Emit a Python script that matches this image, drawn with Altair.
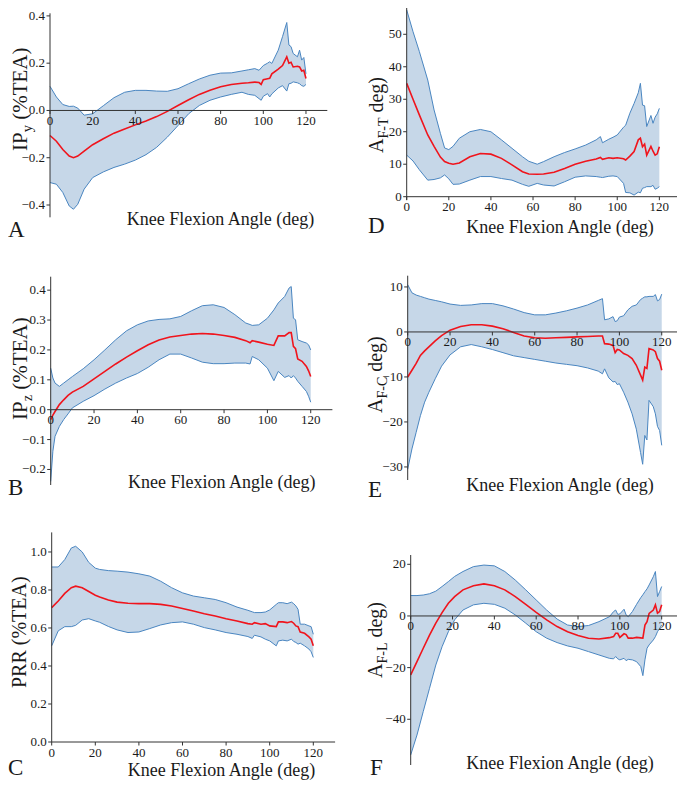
import altair as alt
import pandas as pd

# ---------------- data ----------------
# Panel A: IP_y (%TEA)
a_x = [0, 3, 6, 9, 11, 13, 16, 20, 25, 30, 35, 40, 45, 50, 55, 60, 65, 70, 75, 80, 85, 90,
       93, 96, 98, 99, 100, 102, 103, 104, 107, 109, 111, 112, 113, 114, 116, 117, 118, 119, 120]
a_mean = [-0.106, -0.13, -0.165, -0.193, -0.2, -0.193, -0.172, -0.145, -0.12, -0.096, -0.078, -0.061,
          -0.045, -0.026, -0.004, 0.021, 0.045, 0.068, 0.085, 0.10, 0.11, 0.115,
          0.117, 0.12, 0.118, 0.11, 0.13, 0.134, 0.136, 0.155, 0.175, 0.19, 0.227, 0.20, 0.204,
          0.184, 0.187, 0.184, 0.167, 0.17, 0.135]
a_upper = [0.102, 0.057, 0.025, 0.017, 0.018, 0.01, -0.02, -0.014, 0.02, 0.054, 0.077, 0.085,
           0.085, 0.082, 0.081, 0.092, 0.113, 0.133, 0.149, 0.158, 0.159, 0.167,
           0.172, 0.177, 0.17, 0.18, 0.19, 0.2, 0.206, 0.199, 0.255, 0.312, 0.372, 0.277, 0.27,
           0.241, 0.227, 0.255, 0.213, 0.224, 0.155]
a_lower = [-0.305, -0.312, -0.347, -0.404, -0.418, -0.397, -0.333, -0.284, -0.26, -0.241, -0.227, -0.21,
           -0.187, -0.156, -0.113, -0.064, -0.014, 0.021, 0.043, 0.057, 0.068, 0.077,
           0.068, 0.064, 0.05, 0.043, 0.06, 0.071, 0.057, 0.07, 0.095, 0.105, 0.082, 0.113, 0.115,
           0.121, 0.117, 0.113, 0.105, 0.102, 0.11]

# Panel B: IP_z (%TEA)
b_x = [0, 1, 2, 4, 6, 8, 10, 15, 20, 25, 30, 35, 40, 45, 50, 55, 60, 65, 70, 75, 80, 85, 90,
       92, 93, 96, 100, 103, 105, 108, 110, 111, 112, 113, 114, 116, 118, 119, 120]
b_mean = [-0.033, -0.018, -0.006, 0.017, 0.033, 0.048, 0.059,
          0.078, 0.103, 0.128, 0.153, 0.176, 0.197, 0.217, 0.233, 0.243, 0.248, 0.253, 0.255, 0.253,
          0.248, 0.242, 0.231,
          0.224, 0.231, 0.226, 0.219, 0.215, 0.247, 0.247, 0.258, 0.258, 0.212, 0.204, 0.17, 0.162,
          0.145, 0.13, 0.111]
b_upper = [0.139, 0.106, 0.089, 0.078, 0.089, 0.1, 0.111,
           0.137, 0.167, 0.2, 0.234, 0.264, 0.284, 0.297, 0.302, 0.304, 0.312, 0.331, 0.348, 0.351,
           0.342, 0.318, 0.29,
           0.285, 0.282, 0.284, 0.306, 0.334, 0.357, 0.379, 0.407, 0.412, 0.306, 0.301, 0.234, 0.228,
           0.223, 0.217, 0.2]
b_lower = [-0.24, -0.139, -0.089, -0.056, -0.033, -0.014, 0.006,
           0.028, 0.047, 0.069, 0.089, 0.106, 0.121, 0.142, 0.167, 0.186, 0.186, 0.173, 0.159, 0.154,
           0.154, 0.156, 0.156,
           0.153, 0.178, 0.167, 0.139, 0.097, 0.128, 0.108, 0.114, 0.106, 0.114, 0.106, 0.095, 0.078,
           0.061, 0.045, 0.025]

# Panel C: PRR (%TEA)
c_x = [0, 3, 6, 9, 11, 14, 17, 20, 22, 26, 30, 35, 40, 45, 50, 55, 60, 65, 70, 75, 80, 85, 90,
       92, 93, 96, 98, 100, 103, 104, 106, 108, 110, 111, 112, 113, 114, 116, 118, 119, 120]
c_mean = [0.707, 0.742, 0.782, 0.812, 0.82, 0.812, 0.792, 0.772, 0.763, 0.747,
          0.736, 0.73, 0.728, 0.728, 0.724, 0.716, 0.703, 0.689, 0.675, 0.663, 0.649, 0.637, 0.623,
          0.62, 0.628, 0.62, 0.623, 0.611, 0.607, 0.632, 0.632, 0.628, 0.634, 0.625, 0.611, 0.607,
          0.579, 0.572, 0.553, 0.541, 0.506]
c_upper = [0.921, 0.921, 0.96, 1.021, 1.03, 1.0, 0.945, 0.915, 0.908, 0.902,
           0.899, 0.894, 0.885, 0.873, 0.846, 0.812, 0.785, 0.768, 0.759, 0.75, 0.733, 0.71, 0.693,
           0.685, 0.681, 0.681, 0.684, 0.695, 0.724, 0.733, 0.733, 0.728, 0.736, 0.728, 0.716, 0.698,
           0.62, 0.62, 0.611, 0.607, 0.567]
c_lower = [0.506, 0.585, 0.607, 0.607, 0.614, 0.642, 0.649, 0.637, 0.63, 0.608,
           0.59, 0.576, 0.579, 0.597, 0.616, 0.628, 0.632, 0.62, 0.602, 0.59, 0.576, 0.567, 0.555,
           0.545, 0.562, 0.553, 0.541, 0.532, 0.506, 0.532, 0.536, 0.532, 0.541, 0.529, 0.524, 0.515,
           0.52, 0.506, 0.489, 0.475, 0.445]

# Panel D: A_F-T (deg)
d_x = [0, 3, 6, 10, 13, 16, 18, 20, 22, 25, 30, 35, 40, 45, 50, 55, 58, 62, 65, 70,
       75, 80, 85, 90, 92, 93, 96, 98, 100, 103, 104, 106, 108, 110, 111, 112, 113, 114,
       116, 117, 118, 119, 120]
d_mean = [34.9, 30, 25.2, 19, 15.5, 12.2, 10.8, 10.3, 10, 10.4,
          12.3, 13.3, 13.1, 11.8, 9.8, 7.7, 7.0, 6.9, 7.0, 7.5,
          8.7, 10, 10.9, 11.6, 12.1, 11.5, 12, 11.8, 12, 11.7,
          11.3, 12.5, 13.9, 17.5, 18, 15.4, 16.2, 12.8, 15.5, 14.0, 12.8, 13.2, 15.4]
d_upper = [57.5, 50.8, 44.7, 35.9, 26.7, 19.5, 15, 14.5, 15.5, 18,
           20, 20.7, 20, 17.5, 14.9, 12.3, 10.9, 10, 10.8, 12.3,
           13.6, 14.7, 15.9, 17.5, 18.5, 16.6, 17.7, 18.3, 19, 21.4,
           22, 25.7, 28.7, 32, 34.9, 28.2, 28, 21.6, 25, 22.6, 24.5, 25.5, 27.2]
d_lower = [12.8, 11, 8.3, 5.1, 5.3, 5.8, 6.7, 5.5, 3.8, 3.9,
           5.1, 6.2, 6.2, 5.6, 5.1, 3.8, 3.2, 4.1, 3.6, 3.3,
           4.6, 6, 6.4, 6.2, 6, 5.9, 6.3, 6.4, 6.2, 4.1,
           1.3, 1.2, 0.5, 1.4, 1.2, 2.6, 2.8, 3.1, 3.1, 3.5, 2.3, 2.6, 3.1]

# Panel E: A_F-C (deg)
e_x = [0, 2, 4, 6, 8, 10, 13, 16, 20, 25, 30, 35, 40, 45, 50, 55, 60, 65, 70, 75, 80, 85, 90,
       92, 93, 95, 97, 98, 99, 100, 102, 104, 106, 108, 110, 111, 112, 113, 114, 116, 117, 118, 119, 120]
e_mean = [-10, -8.5, -7, -5.2, -4.2, -3.3, -2.0, -0.8,
          0.4, 1.2, 1.6, 1.6, 1.3, 0.7, -0.1, -0.9, -1.3, -1.4, -1.3, -1.2, -1.1, -1.0, -0.9,
          -0.9, -2.6, -2.7, -3.0, -4.6, -3.9, -4.0, -4.8, -5.2, -5.9, -7.4, -9.6,
          -10.7, -7.8, -8.1, -3.7, -4.0, -4.4, -5.9, -6.5, -8.5]
e_upper = [10.5, 8.7, 8.2, 7.9, 7.6, 7.3, 7.0, 6.7,
           6.2, 5.9, 6.0, 6.3, 6.3, 5.8, 5.1, 4.3, 3.8, 3.8, 4.2, 4.7, 5.3, 6.0, 7.0,
           7.4, 2.7, 2.9, 3.4, 2.3, 2.5, 3.3, 3.6, 4.9, 5.7, 6.0, 7.2,
           7.5, 7.8, 7.8, 7.9, 7.9, 8.3, 6.9, 7.2, 8.4]
e_lower = [-30.5, -26, -22.3, -18.6, -15.6, -13.4, -10.4, -7.6,
           -5.1, -3.3, -2.8, -3.3, -3.9, -4.6, -5.3, -5.7, -6.1, -6.5, -6.9, -7.2, -7.5, -8.0, -8.7,
           -9.3, -8.2, -10.2, -11.1, -11.0, -11.7, -11.5, -13.4, -15.6, -18.2, -21.6, -26.8,
           -29.4, -23.0, -24.0, -15.2, -16.6, -18.2, -21.0, -21.9, -25.2]

# Panel F: A_F-L (deg)
f_x = [0, 3, 6, 9, 12, 15, 18, 21, 25, 30, 35, 40, 45, 50, 55, 60, 65, 70, 75, 80, 85, 90, 95,
       97, 98, 99, 100, 102, 103, 104, 106, 108, 110, 111, 112, 113, 114, 116, 117, 118, 119, 120]
f_mean = [-22.8, -17.7, -12.5, -7.4, -2.8, 1.3, 4.9, 7.5,
          10.1, 11.7, 12.4, 11.7, 10.1, 7.5, 4.5, 1.4, -1.5, -4.1, -6.1, -7.6, -8.6, -8.9, -8.4,
          -8.0, -6.7, -6.7, -8.3, -6.9, -7.2, -8.6, -8.6, -8.3, -8.5,
          -8.6, -3.5, -2.2, 1.0, 2.3, 4.3, 1.1, 1.7, 4.3]
f_upper = [7.9, 7.9, 8.1, 8.6, 9.6, 11.4, 13.3, 15.3,
           17.2, 19.1, 19.7, 19.4, 17.2, 13.9, 10.1, 6.2, 2.3, -1.2, -3.5, -4.1, -3.7, -2.2, -0.3,
           1.7, 2.3, 0.6, 0.8, 2.6, 0.4, -0.3, 1.7, 4.5, 7.1,
           8.2, 9.4, 10.5, 12, 15.2, 17.2, 7.5, 9.4, 11.4]
f_lower = [-53.8, -46.1, -37, -28, -19, -11.9, -6.1, -1.5,
           2.3, 4.3, 4.9, 4.5, 3, 0.4, -2.8, -6.1, -8.6, -10.3, -11.6, -12.5, -13.8, -15.1, -16.4,
           -16.6, -15.7, -16.6, -17, -16.4, -17.3, -16.8, -17, -17.7, -19.6,
           -23.1, -17, -12.5, -11.2, -9.3, -8, -6.1, -4.8, -3.5]

x_ticks = [0, 20, 40, 60, 80, 100, 120]
a_ticks = [-0.4, -0.2, 0.0, 0.2, 0.4]
b_ticks = [-0.2, -0.1, 0.0, 0.1, 0.2, 0.3, 0.4]
c_ticks = [0.0, 0.2, 0.4, 0.6, 0.8, 1.0]
d_ticks = [0, 10, 20, 30, 40, 50]
e_ticks = [-30, -20, -10, 0, 10]
f_ticks = [-40, -20, 0, 20]
x_title = "Knee Flexion Angle (deg)"

# ---------------- style / layout ----------------
W, H = 669, 772
FONT = "Liberation Serif"
FILL = "#c6d7e8"
EDGE = "#4a86c1"
RED = "#f0141c"
AXC = "#333333"
TXT = "#1a1a1a"
TICK = 3.5
TICK_FONT = 13

TIMES = {'I': 333, 'P': 556, 'R': 667, 'A': 722, 'T': 611, 'E': 611, 'F': 556, 'C': 667,
         'L': 611, ' ': 250, '(': 333, ')': 333, '%': 833, '-': 333, 'y': 500, 'z': 444,
         'd': 500, 'e': 444, 'g': 500}


def text_width(s, size):
    return sum(TIMES.get(ch, 500) for ch in s) / 1000.0 * size


def panel(xs, mean, upper, lower, xr, yd, yr, yticks, yfmt):
    df = pd.DataFrame({"angle": xs, "mean": mean, "upper": upper, "lower": lower})
    xsc = alt.Scale(domain=[0, 130], range=list(xr), nice=False, zero=False)
    ysc = alt.Scale(domain=list(yd), range=list(yr), nice=False, zero=False)

    def X(f):
        return alt.X(f, scale=xsc, axis=None)

    def Y(f):
        return alt.Y(f, scale=ysc, axis=None)

    base = alt.Chart(df)
    band = base.mark_area(color=FILL, opacity=1).encode(x=X("angle:Q"), y=Y("lower:Q"), y2="upper:Q")
    up = base.mark_line(color=EDGE, strokeWidth=1).encode(x=X("angle:Q"), y=Y("upper:Q"))
    lo = base.mark_line(color=EDGE, strokeWidth=1).encode(x=X("angle:Q"), y=Y("lower:Q"))
    mean_line = base.mark_line(color=RED, strokeWidth=1.6).encode(x=X("angle:Q"), y=Y("mean:Q"))

    frame = pd.DataFrame({"x0": [0], "x1": [130], "y0": [yd[0]], "y1": [yd[1]], "z": [0]})
    xt = pd.DataFrame({"v": x_ticks, "z": 0})
    yt = pd.DataFrame({"v": yticks, "z": 0})
    xline = alt.Chart(frame).mark_rule(color=AXC, strokeWidth=1).encode(
        x=X("x0:Q"), x2="x1:Q", y=Y("z:Q"))
    yline = alt.Chart(frame).mark_rule(color=AXC, strokeWidth=1).encode(
        x=X("z:Q"), y=Y("y0:Q"), y2="y1:Q")
    xtick = alt.Chart(xt).mark_rule(color=AXC, strokeWidth=1, y2Offset=TICK).encode(
        x=X("v:Q"), y=Y("z:Q"), y2="z:Q")
    ytick = alt.Chart(yt).mark_rule(color=AXC, strokeWidth=1, x2Offset=-TICK).encode(
        x=X("z:Q"), x2="z:Q", y=Y("v:Q"))
    xlab = alt.Chart(xt).mark_text(font=FONT, fontSize=TICK_FONT, color=TXT, align="center",
                                   baseline="top", dy=TICK + 1).encode(
        x=X("v:Q"), y=Y("z:Q"), text=alt.Text("v:Q", format="d"))
    ylab = alt.Chart(yt).mark_text(font=FONT, fontSize=TICK_FONT, color=TXT, align="right",
                                   baseline="middle", dx=-(TICK + 1.5)).encode(
        x=X("z:Q"), y=Y("v:Q"), text=alt.Text("v:Q", format=yfmt))
    return alt.layer(band, up, lo, mean_line, xline, yline, xtick, ytick, xlab, ylab)


def label(s, x, y, size, align="left", angle=0):
    return alt.Chart(pd.DataFrame({"t": [s]})).mark_text(
        font=FONT, fontSize=size, align=align, baseline="alphabetic", angle=angle, color=TXT
    ).encode(x=alt.value(x), y=alt.value(y), text="t:N")


def ytitle(parts, xb, y0):
    out = []
    y = y0
    for s, size, shift in parts:
        core = s.lstrip(" ")
        y -= text_width(s[: len(s) - len(core)], size)
        out.append(label(core, xb + shift, y, size, angle=270))
        y -= text_width(core, size)
    return out


pA = panel(a_x, a_mean, a_upper, a_lower, (42, 319.3), (-0.452, 0.411), (209.3, 5.3), a_ticks, ".1f")
pB = panel(b_x, b_mean, b_upper, b_lower, (42.7, 324.4), (-0.252, 0.445), (477, 268.7), b_ticks, ".1f")
pC = panel(c_x, c_mean, c_upper, c_lower, (43.7, 327.1), (0, 1.103), (734, 524.4), c_ticks, ".1f")
pD = panel(d_x, d_mean, d_upper, d_lower, (398.7, 672.4), (-1, 60.4), (191.95, -7.5), d_ticks, "d")
pE = panel(e_x, e_mean, e_upper, e_lower, (399.7, 674.9), (-32.9, 12.5), (472, 267.7), e_ticks, "d")
pF = panel(f_x, f_mean, f_upper, f_lower, (402.7, 674.6), (-57.7, 23.6), (757, 547), f_ticks, "d")

texts = []
# x titles
for cx, by in [(212.5, 217), (213.7, 479.7), (213.5, 768), (552, 225), (552, 483), (552, 761)]:
    texts.append(label(x_title, cx, by, 18, align="center"))
# panel letters
for s, lx, by in [("A", 0, 229), ("B", 0, 487), ("C", 0, 767),
                  ("D", 360, 225), ("E", 360, 489), ("F", 362, 767)]:
    texts.append(label(s, lx, by, 23))
# y titles
texts += ytitle([("IP", 21, 0), ("y", 14.5, 5), (" (%TEA)", 21, 0)], 19, 143)
texts += ytitle([("IP", 21, 0), ("z", 14.5, 5), (" (%TEA)", 21, 0)], 19, 412)
texts += ytitle([("PRR (%TEA)", 20, 0)], 18, 680)
texts += ytitle([("A", 20, 0), ("F-T", 14, 5), (" deg)", 20, 0)], 374.7, 145)
texts += ytitle([("A", 20, 0), ("F-C", 14, 5), (" deg)", 20, 0)], 373.7, 405)
texts += ytitle([("A", 20, 0), ("F-L", 14, 5), (" deg)", 20, 0)], 373.7, 670)

chart = alt.layer(pA, pB, pC, pD, pE, pF, *texts).resolve_scale(
    x="independent", y="independent"
).properties(
    width=W, height=H, autosize=alt.AutoSizeParams(type="none"), padding=0
).configure_view(stroke=None)

chart.save("out.html", embed_options={"renderer": "svg", "actions": False})
